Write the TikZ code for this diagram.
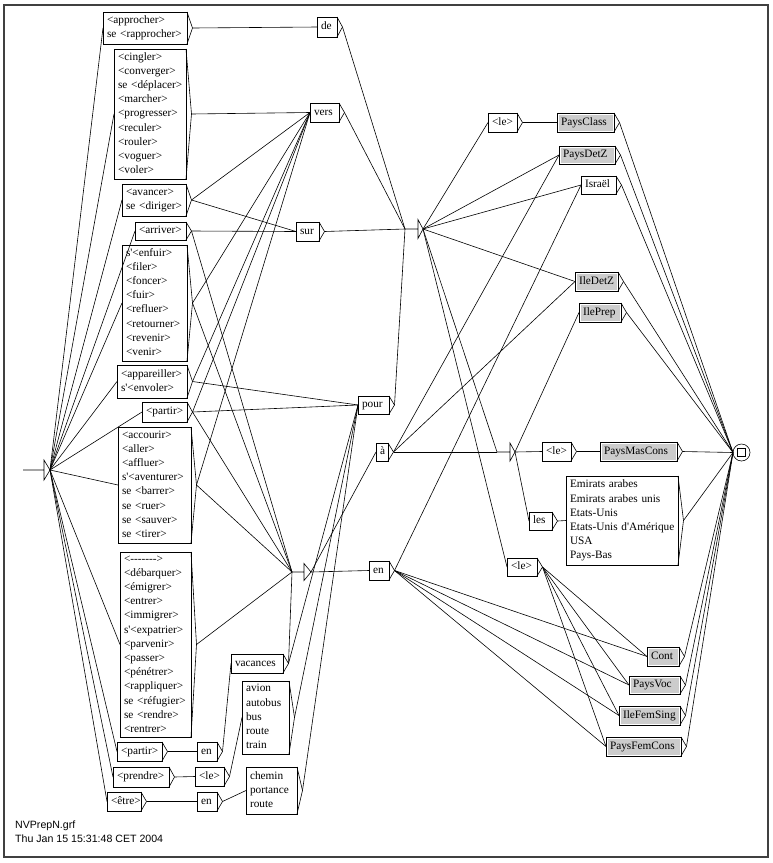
\documentclass[tikz,border=0pt]{standalone}
\usepackage{fontspec}
\setmainfont{Liberation Serif}
\setsansfont{Liberation Sans}
\newcommand\tlines[1]{\begin{tabular}{@{}l@{}}#1\end{tabular}}
\newcommand\hyph{\mbox{-}}
\tikzset{
  ln/.style={line width=0.6pt, black},
  ubox/.style={draw, line width=0.6pt, anchor=north west, inner xsep=4pt, inner ysep=0pt,
    outer sep=0pt, align=left, font=\fontsize{11.3}{14.2}\selectfont},
  subg/.style={path picture={\fill[gray!40]
    ([shift={(2pt,-2pt)}]path picture bounding box.north west) rectangle
    ([shift={(-1pt,1pt)}]path picture bounding box.south east);}},
  eps/.style={inner sep=0pt, outer sep=0pt, minimum size=0pt},
}
% [style]{name}{x}{y}{w}{h}{text}
\newcommand\ubx[7][]{%
  \pgfmathsetmacro\tw{#5-8}%
  \node[ubox,#1,text width=\tw pt,minimum height=#6pt] (#2) at (#3,#4) {\tlines{#7}};
  \draw[ln] (#2.north east) -- ([xshift=5.5pt]#2.east) coordinate (#2-t) -- (#2.south east);}
\newcommand\cn[2]{\foreach \tgt in {#2}{\draw[ln] (#1-t) -- (\tgt.west);}}
\begin{document}
\begin{tikzpicture}[x=1pt,y=-1pt]
\useasboundingbox (0,0) rectangle (773,863);
\draw[line width=2pt,black!75] (4,5) rectangle (768,857);

% initial state
\node[eps] (S0) at (23,470) {};
\draw[ln] (S0) -- ++(21,0) ++(0,-10) -- ++(0,20) -- ++(6,-10) coordinate (S0-t) -- cycle;

% left column
\ubx{a1}{103}{12}{84}{32}{<approcher>\\se <rapprocher>}
\ubx{a2}{114}{49}{72}{130}{<cingler>\\<converger>\\se <déplacer>\\<marcher>\\<progresser>\\<reculer>\\<rouler>\\<voguer>\\<voler>}
\ubx{a3}{122}{184}{64}{32}{<avancer>\\se <diriger>}
\ubx{a4}{135}{222}{51}{18}{<arriver>}
\ubx{a5}{122}{245}{65}{116}{s\textquotesingle<enfuir>\\<filer>\\<foncer>\\<fuir>\\<refluer>\\<retourner>\\<revenir>\\<venir>}
\ubx{a6}{117}{365}{70}{33}{<appareiller>\\s\textquotesingle<envoler>}
\ubx{a7}{142}{402}{45}{20}{<partir>}
\ubx{a8}{118}{427}{73}{116}{<accourir>\\<aller>\\<affluer>\\s\textquotesingle<aventurer>\\se <barrer>\\se <ruer>\\se <sauver>\\se <tirer>}
\ubx{a9}{120}{552}{71}{185}{<\hyph\hyph\hyph\hyph\hyph\hyph\hyph>\\<débarquer>\\<émigrer>\\<entrer>\\<immigrer>\\s\textquotesingle<expatrier>\\<parvenir>\\<passer>\\<pénétrer>\\<rappliquer>\\se <réfugier>\\se <rendre>\\<rentrer>}
\ubx{a10}{117}{742}{45}{19}{<partir>}
\ubx{a11}{113}{767}{56}{20}{<prendre>}
\ubx{a12}{107}{792}{34}{19}{<être>}

% second column
\ubx{en1}{197}{742}{20}{19}{en}
\ubx{le1}{195}{767}{29}{19}{<le>}
\ubx{en2}{197}{792}{20}{19}{en}
\ubx{vac}{231}{654}{52}{19}{vacances}
\ubx{avi}{242}{681}{47}{73}{avion\\autobus\\bus\\route\\train}
\ubx{che}{246}{767}{51}{47}{chemin\\portance\\route}

% prepositions
\ubx{de}{317}{17}{20}{20}{de}
\ubx{vers}{310}{103}{29}{19}{vers}
\ubx{sur}{296}{222}{23}{19}{sur}
\ubx{pour}{358}{396}{31}{18}{pour}
\ubx{aa}{376}{443}{12}{18}{à}
\ubx{en}{369}{561}{20}{19}{en}

% epsilon boxes
\node[eps] (E1) at (405,229) {};
\draw[ln] (E1) -- ++(13,0) ++(0,-9.5) -- ++(0,19) -- ++(5,-9.5) coordinate (E1-t) -- cycle;
\node[eps] (E2) at (292,572) {};
\draw[ln] (E2) -- ++(12,0) ++(0,-8.5) -- ++(0,17) -- ++(7,-8.5) coordinate (E2-t) -- cycle;
\node[eps] (E3) at (497,452) {};
\draw[ln] (E3) -- ++(13,0) ++(0,-9) -- ++(0,18) -- ++(5,-9) coordinate (E3-t) -- cycle;

% right part
\ubx{le2}{488}{113}{29}{19}{<le>}
\ubx[subg]{pc}{557}{113}{57}{19}{PaysClass}
\ubx[subg]{pdz}{559}{146}{56}{18}{PaysDetZ}
\ubx{isr}{581}{176}{35}{18}{Israël}
\ubx[subg]{idz}{575}{272}{43}{19}{IleDetZ}
\ubx[subg]{ipr}{579}{303}{42}{19}{IlePrep}
\ubx{le4}{542}{442}{29}{19}{<le>}
\ubx[subg]{pmc}{600}{442}{77}{19}{PaysMasCons}
\ubx{les}{529}{512}{23}{18}{les}
\ubx{emi}{566}{476}{112}{89}{Emirats arabes\\Emirats arabes unis\\Etats-Unis\\Etats-Unis d\textquotesingle Amérique\\USA\\Pays-Bas}
\ubx{le3}{507}{558}{30}{18}{<le>}
\ubx[subg]{cont}{647}{647}{32}{19}{Cont}
\ubx[subg]{pvoc}{629}{676}{51}{18}{PaysVoc}
\ubx[subg]{ifs}{619}{706}{61}{19}{IleFemSing}
\ubx[subg]{pfc}{606}{737}{75}{19}{PaysFemCons}

% final state
\node[circle,draw,line width=0.6pt,minimum size=17pt,inner sep=0pt,outer sep=0pt] (F) at (741.5,452.5) {};
\draw[ln] ([shift={(-4pt,-4pt)}]F.center) rectangle ([shift={(4pt,4pt)}]F.center);

% connections
\cn{S0}{a1,a2,a3,a4,a5,a6,a7,a8,a9,a10,a11,a12}
\cn{a1}{de}
\cn{a2}{vers}
\cn{a3}{vers,sur}
\cn{a4}{sur,E2}
\cn{a5}{vers,E2}
\cn{a6}{vers,pour}
\cn{a7}{vers,pour,E2}
\cn{a8}{vers,E2}
\cn{a9}{E2}
\cn{a10}{en1}
\cn{a11}{le1}
\cn{a12}{en2}
\cn{en1}{vac}
\cn{le1}{avi}
\cn{en2}{che}
\cn{vac}{E2,pour}
\cn{avi}{pour}
\cn{che}{pour}
\cn{de}{E1}
\cn{vers}{E1}
\cn{sur}{E1}
\cn{pour}{E1}
\cn{E2}{aa,en}
\cn{E1}{le2,pdz,isr,idz,E3,le3}
\cn{aa}{pdz,idz,E3}
\cn{en}{isr,cont,pvoc,ifs,pfc}
\cn{E3}{le4,les,ipr}
\cn{le2}{pc}
\cn{le4}{pmc}
\cn{les}{emi}
\cn{le3}{cont,pvoc,ifs,pfc}
\foreach \src in {pc,pdz,isr,idz,ipr,pmc,emi,cont,pvoc,ifs,pfc}{\draw[ln] (\src-t) -- (F.west);}

% footer
\node[anchor=base west,inner sep=0pt,font=\sffamily\fontsize{10.6}{12}\selectfont] (fname) at (15,828) {NVPrepN.grf};
\node[anchor=base west,inner sep=0pt,font=\sffamily\fontsize{10.6}{12}\selectfont] (fdate) at (15,842) {Thu Jan 15 15:31:48 CET 2004};
\end{tikzpicture}
\end{document}
